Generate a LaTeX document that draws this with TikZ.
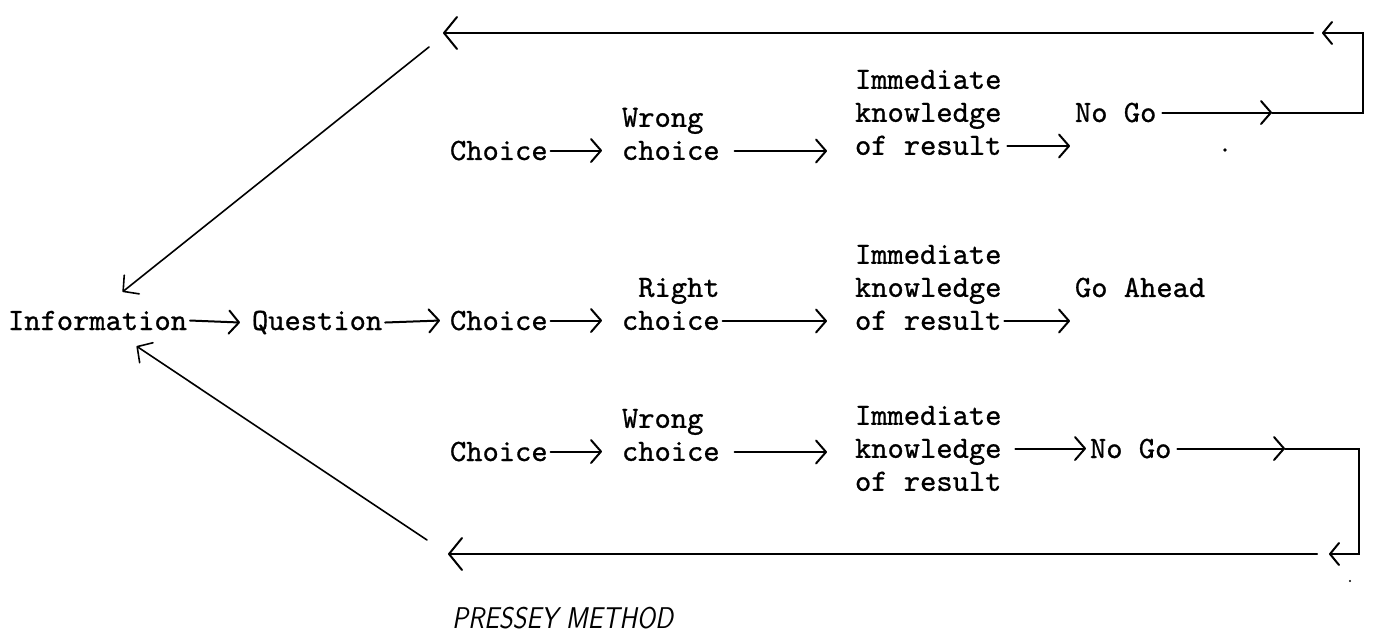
\documentclass[tikz,border=0pt]{standalone}
\usepackage{fontspec}
\setmonofont{lmmono10-regular.otf}[FakeBold=0.8]
\usetikzlibrary{arrows.meta}
\begin{document}
\begin{tikzpicture}[x=1pt,y=-1pt,
  txt/.style={font=\ttfamily\fontsize{31}{33}\selectfont, inner sep=0pt, outer sep=0pt, align=left},
  bl/.style={txt, anchor=base west},
  blk/.style={txt, anchor=south west},
  tarr/.style={line width=2pt, line cap=round, -{Straight Barb[length=10pt,width=23pt,round]}},
  midarr/.style={line width=2pt, line cap=round, line join=miter, -{Straight Barb[length=9pt,width=22pt,round]}},
  bigarr/.style={line width=2pt, line cap=round, -{Straight Barb[length=13pt,width=32pt,round]}},
  diag/.style={line width=1.6pt, line cap=round, -{Straight Barb[length=11pt,width=24pt,round]}},
]
\useasboundingbox (0,0) rectangle (1378,636);

% fixed points of the two feedback loops
\coordinate (c1) at (1272,0);
\coordinate (tr) at (1363,33);
\coordinate (tipTR) at (1322,33);
\coordinate (lineTR) at (1313,33);
\coordinate (topL) at (443,33);
\coordinate (dU) at (429,47);
\coordinate (c3) at (1285,0);
\coordinate (br) at (1359,554);
\coordinate (tipBR) at (1329,554);
\coordinate (lineBR) at (1317,554);
\coordinate (botL) at (448,554);
\coordinate (dL) at (427,540);

% main line
\node[bl] (info) at (8,330) {Information};
\node[bl] (quest) at (252,330) {Question};
\node[bl] (ch2) at (450,330) {Choice};
\node[blk] (rc2) at (622,330) {~Right\\choice};
\node[blk] (ik2) at (855,330) {Immediate\\knowledge\\of result};
\node[bl] (ga2) at (1075,297) {Go Ahead};

\draw[tarr] ([xshift=3pt]info.east) -- ([xshift=-12pt]quest.west);
\draw[tarr] ([xshift=3pt]quest.east) -- ([xshift=-10pt]ch2.west);
\draw[tarr] ([xshift=3pt]ch2.east) -- ([xshift=-20pt]ch2.east -| rc2.west);
\draw[tarr] ([xshift=3pt,yshift=9pt]rc2.south east) -- ([xshift=-28pt,yshift=9pt]rc2.south east -| ik2.west);
\draw[tarr] ([xshift=3pt,yshift=9pt]ik2.south east) -- ([xshift=-5pt,yshift=9pt]ik2.south east -| ga2.west);

% upper branch
\node[bl] (ch1) at (450,160) {Choice};
\node[blk] (wc1) at (622,160) {Wrong\\choice};
\node[blk] (ik1) at (855,155) {Immediate\\knowledge\\of result};
\node[bl] (ng1) at (1075,122) {No Go};

\draw[tarr] ([xshift=3pt]ch1.east) -- ([xshift=-20pt]ch1.east -| wc1.west);
\draw[tarr] ([xshift=15pt,yshift=9pt]wc1.south east) -- ([xshift=-28pt,yshift=9pt]wc1.south east -| ik1.west);
\draw[tarr] ([xshift=6pt,yshift=9pt]ik1.south east) -- ([xshift=-5pt,yshift=9pt]ik1.south east -| ng1.west);
\draw[tarr] ([xshift=6pt]ng1.east) -- (ng1.east -| c1);
\draw[midarr] (ng1.east -| c1) -- (ng1.east -| tr) -- (tr) -- (tipTR);
\draw[bigarr] (lineTR) -- (topL);
\draw[diag] (dU) -- ([xshift=25pt,yshift=19pt]info.north);

% lower branch
\node[bl] (ch3) at (450,461) {Choice};
\node[blk] (wc3) at (622,461) {Wrong\\choice};
\node[blk] (ik3) at (855,491) {Immediate\\knowledge\\of result};
\node[bl] (ng3) at (1090,458) {No Go};

\draw[tarr] ([xshift=3pt]ch3.east) -- ([xshift=-20pt]ch3.east -| wc3.west);
\draw[tarr] ([xshift=15pt,yshift=9pt]wc3.south east) -- ([xshift=-28pt,yshift=9pt]wc3.south east -| ik3.west);
\draw[tarr] ([xshift=14pt]ik3.east |- ng3.west) -- ([xshift=-4pt]ng3.west);
\draw[tarr] ([xshift=6pt]ng3.east) -- (ng3.east -| c3);
\draw[midarr] (ng3.east -| c3) -- (ng3.east -| br) -- (br) -- (tipBR);
\draw[bigarr] (lineBR) -- (botL);
\draw[diag] (dL) -- ([xshift=39pt,yshift=-16pt]info.south);

% stray marks
\fill (1225,150) circle (1.8pt);
\fill (1350,581) circle (1.1pt);

% caption
\node[anchor=base west, inner sep=0pt, font=\sffamily\itshape\fontsize{30}{30}\selectfont] (cap) at (452,628) {\scalebox{0.88}[1]{PRESSEY METHOD}};
\end{tikzpicture}
\end{document}
